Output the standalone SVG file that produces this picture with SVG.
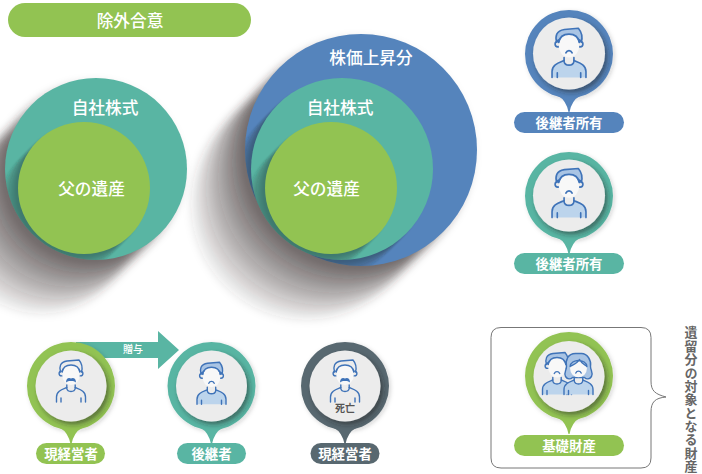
<svg xmlns="http://www.w3.org/2000/svg" width="702" height="474" viewBox="0 0 702 474">
<style>
text{font-family:"Noto Sans CJK JP","Noto Sans",sans-serif;fill:#fff;text-anchor:middle;font-weight:500}
.big{font-size:16.7px}
.lab{font-size:13.4px;font-weight:700}
.small{font-size:10px}
.green{fill:#92c352}.teal{fill:#59b5a3}.blue{fill:#5584bc}.dark{fill:#586870}
.disc{fill:#ececec;filter:url(#discShadow)}
.ring{filter:url(#ringShadow)}
.ln{fill:none;stroke:#3f73b8;stroke-width:1.4;stroke-linecap:round;stroke-linejoin:round}
.face{fill:#f8f8f8}
.lt{fill:#bcd4ec}
.ltb{fill:#a9c4e4;stroke:#3f73b8;stroke-width:1.4;stroke-linejoin:round}
.st{fill:#3a2f2f;fill-opacity:.105}
.sti{fill:#25302f;fill-opacity:.085}
</style>
<defs>
<filter id="soft" x="-40%" y="-40%" width="180%" height="180%"><feGaussianBlur stdDeviation="4"/></filter>
<filter id="softi" x="-20%" y="-20%" width="140%" height="140%"><feGaussianBlur stdDeviation="1.2"/></filter>
<filter id="discShadow" x="-30%" y="-30%" width="170%" height="170%"><feDropShadow dx="2.5" dy="3" stdDeviation="2.5" flood-color="#222" flood-opacity=".5"/></filter>
<filter id="ringShadow" x="-20%" y="-20%" width="140%" height="140%"><feDropShadow dx="1.5" dy="1.5" stdDeviation="2" flood-color="#222" flood-opacity=".18"/></filter>
<clipPath id="cT1"><circle cx="96" cy="169" r="91"/></clipPath>
<clipPath id="cB"><circle cx="361" cy="150" r="116"/></clipPath>
<clipPath id="cT2"><circle cx="342" cy="169" r="91"/></clipPath>
<path id="tail" d="M-11,42 Q-3,46 -0.5,58 L0.5,58 Q3,46 11,42 Z"/>
<circle id="s91" r="91"/>
<circle id="s116" r="116"/>
<circle id="s66" r="66"/>
<g id="head">
<circle class="ln" cx="-9.5" cy="-12.5" r="2.4"/>
<circle class="ln" cx="9.5" cy="-12.5" r="2.4"/>
<ellipse class="face" cx="0" cy="-11" rx="8.8" ry="10"/>
<path class="ln" d="M-8.8,-14 C-8,-19 -4,-21 0,-21 C4,-21 8,-19 8.8,-14"/>
</g>
<g id="man">
<path class="ln" d="M-10.5,-14 C-12,-19 -11,-24 -4,-25 L8,-26 C10.5,-23 12,-19 10.5,-14"/>
<use href="#head"/>
<path class="ln" d="M-14.5,16 V11 C-14.5,5 -9,3.5 -4.2,1.5 M14.5,16 V11 C14.5,5 9,3.5 4.2,1.5 M-10,12 V16 M10,12 V16"/>
<path class="ln" d="M-4.2,-1 V2.5 C-3.5,6.5 3.5,6.5 4.2,2.5 V-1"/>
<path fill="#3f73b8" d="M-5,-3.5 C-5,-8 -2,-8.8 0,-7.5 C2,-8.8 5,-8 5,-3.5 C3,-5.3 1,-5 0,-5 C-1,-5 -3,-5.3 -5,-3.5 Z"/>
</g>
<g id="heir">
<path class="ltb" d="M-10.5,-14 C-12,-19 -11,-24 -4,-25 L8,-26 C10.5,-23 12,-19 10.5,-14 C9,-19 -9,-19 -10.5,-14 Z"/>
<use href="#head"/>
<path class="lt" d="M-14.5,16 V11 C-14.5,5 -9,3.5 -4.2,1.5 C-3.5,6.5 3.5,6.5 4.2,1.5 C9,3.5 14.5,5 14.5,11 V16 Z"/>
<path class="ln" d="M-14.5,16 V11 C-14.5,5 -9,3.5 -4.2,1.5 M14.5,16 V11 C14.5,5 9,3.5 4.2,1.5 M-10,12 V16 M10,12 V16"/>
<path class="ln" d="M-4.2,-1 V2.5 C-3.5,6.5 3.5,6.5 4.2,2.5 V-1"/>
<path class="ln" d="M-2.7,-5 C-1.5,-7.5 1.5,-7.5 2.7,-5"/>
</g>
<g id="woman">
<path class="ltb" d="M-3,-25 C-11,-25 -13,-18 -12,-12 C-12,-8 -15,-6 -13,-2 C-11,1 -8,1 -6,-1 H6 C8,1 11,1 13,-2 C15,-6 12,-8 12,-12 C13,-18 9,-25 3,-25 Z"/>
<ellipse class="face" cx="0" cy="-10" rx="8.4" ry="8.8"/>
<path class="ltb" d="M-8.4,-12 C-5,-14 -1,-15 1,-19 C3,-15 6,-14 8.4,-12 C8,-20 -8,-20 -8.4,-12 Z"/>
<path class="lt" d="M-14.5,16 V11 C-14.5,5 -9,3.5 -4.2,1.5 C-3.5,6.5 3.5,6.5 4.2,1.5 C9,3.5 14.5,5 14.5,11 V16 Z"/>
<path class="ln" d="M-14.5,16 V11 C-14.5,5 -9,3.5 -4.2,1.5 M14.5,16 V11 C14.5,5 9,3.5 4.2,1.5 M-10,12 V16 M10,12 V16"/>
<path class="ln" d="M-4.2,-1 V2.5 C-3.5,6.5 3.5,6.5 4.2,2.5 V-1"/>
<path class="ln" d="M-2.7,-5.5 C-1.5,-8 1.5,-8 2.7,-5.5"/>
</g>
</defs>

<rect width="702" height="474" fill="#fff"/>

<g id="node-exclusion">
<rect class="green" x="8" y="3" width="243" height="34" rx="17"/>
<text class="big" x="130" y="27">除外合意</text>
</g>

<g id="node-stack-left">
<g filter="url(#soft)" class="st" transform="translate(96,169)">
<use href="#s91" x="-3" y="3"/><use href="#s91" x="-6" y="6"/><use href="#s91" x="-9" y="9"/><use href="#s91" x="-13" y="13"/><use href="#s91" x="-17" y="17"/><use href="#s91" x="-22" y="22"/><use href="#s91" x="-27" y="27"/><use href="#s91" x="-33" y="33"/><use href="#s91" x="-39" y="39"/><use href="#s91" x="-46" y="46"/><use href="#s91" x="-54" y="54"/>
</g>
<circle class="teal" cx="96" cy="169" r="91"/>
<g clip-path="url(#cT1)"><g filter="url(#softi)" class="sti" transform="translate(84,188)">
<use href="#s66" x="-3" y="3"/><use href="#s66" x="-6" y="6"/><use href="#s66" x="-9" y="9"/><use href="#s66" x="-12" y="12"/><use href="#s66" x="-16" y="16"/><use href="#s66" x="-20" y="20"/>
</g></g>
<circle class="green" cx="84" cy="188" r="66"/>
<text class="big" x="105" y="114">自社株式</text>
<text class="big" x="91.5" y="195">父の遺産</text>
</g>

<g id="node-stack-right">
<g filter="url(#soft)" class="st" transform="translate(361,150)">
<use href="#s116" x="-3" y="3"/><use href="#s116" x="-6" y="6"/><use href="#s116" x="-9" y="9"/><use href="#s116" x="-13" y="13"/><use href="#s116" x="-17" y="17"/><use href="#s116" x="-22" y="22"/><use href="#s116" x="-27" y="27"/><use href="#s116" x="-33" y="33"/><use href="#s116" x="-39" y="39"/><use href="#s116" x="-46" y="46"/><use href="#s116" x="-54" y="54"/>
</g>
<circle class="blue" cx="361" cy="150" r="116"/>
<g clip-path="url(#cB)"><g filter="url(#softi)" class="sti" transform="translate(342,169)">
<use href="#s91" x="-3" y="3"/><use href="#s91" x="-6" y="6"/><use href="#s91" x="-9" y="9"/><use href="#s91" x="-12" y="12"/><use href="#s91" x="-16" y="16"/><use href="#s91" x="-20" y="20"/>
</g></g>
<circle class="teal" cx="342" cy="169" r="91"/>
<g clip-path="url(#cT2)"><g filter="url(#softi)" class="sti" transform="translate(331,188)">
<use href="#s66" x="-3" y="3"/><use href="#s66" x="-6" y="6"/><use href="#s66" x="-9" y="9"/><use href="#s66" x="-12" y="12"/><use href="#s66" x="-16" y="16"/><use href="#s66" x="-20" y="20"/>
</g></g>
<circle class="green" cx="331" cy="188" r="66"/>
<text class="big" x="371" y="64">株価上昇分</text>
<text class="big" x="340" y="114">自社株式</text>
<text class="big" x="326.5" y="195">父の遺産</text>
</g>

<g id="connectors">
<path id="gift-arrow" class="teal" d="M76,342 H158 V331 L179,350 L158,369 V358 H76 Z"/>
<text class="small" x="133" y="353">贈与</text>
<path id="bracket" fill="none" stroke="#777" stroke-width="1" d="M501,327.5 H641 Q651,327.5 651,337.5 V381 C651,391 655,394 666,397 C655,398 651,402 651,412 V458 Q651,468 641,468 H501 Q491,468 491,458 V337.5 Q491,327.5 501,327.5 Z"/>
</g>

<g id="node-owner-blue" transform="translate(569,54)">
<circle class="blue ring" r="44"/><use href="#tail" class="blue"/>
<circle class="disc" r="36" cy="-0.5"/>
<use href="#heir" transform="translate(0,4.7) scale(1.17)"/>
<rect class="blue" x="-55" y="58" width="110" height="21" rx="10.5"/>
<text class="lab" x="0" y="73.5">後継者所有</text>
</g>

<g id="node-owner-teal" transform="translate(569,196)">
<circle class="teal ring" r="44"/><use href="#tail" class="teal"/>
<circle class="disc" r="36" cy="-0.5"/>
<use href="#heir" transform="translate(0,2.9) scale(1.17)"/>
<rect class="teal" x="-55" y="57" width="110" height="21" rx="10.5"/>
<text class="lab" x="0" y="72.5">後継者所有</text>
</g>

<g id="node-manager" transform="translate(71,386)">
<circle class="green ring" r="44"/><use href="#tail" class="green"/>
<circle class="disc" r="35.5"/>
<use href="#man"/>
<rect class="green" x="-35" y="57" width="69" height="21" rx="10.5"/>
<text class="lab" x="0" y="72.5">現経営者</text>
</g>

<g id="node-successor" transform="translate(211.5,386)">
<circle class="teal ring" r="44"/><use href="#tail" class="teal"/>
<circle class="disc" r="35.5"/>
<use href="#heir" y="2.3"/>
<rect class="teal" x="-34.5" y="57" width="69" height="21" rx="10.5"/>
<text class="lab" x="0" y="72.5">後継者</text>
</g>

<g id="node-deceased" transform="translate(345,386)">
<circle class="dark ring" r="44"/><use href="#tail" class="dark"/>
<circle class="disc" r="35.5"/>
<use href="#man"/>
<text class="small" x="0" y="26" style="fill:#555;font-weight:700">死亡</text>
<rect class="dark" x="-34.5" y="57" width="69" height="21" rx="10.5"/>
<text class="lab" x="0" y="72.5">現経営者</text>
</g>

<g id="node-basic" transform="translate(569,376)">
<circle class="green ring" r="44"/><use href="#tail" class="green"/>
<circle class="disc" r="35.5" cy="0.5"/>
<use href="#heir" x="-12" y="2.5"/>
<use href="#woman" x="9.5" y="2.5"/>
<rect class="green" x="-55" y="59" width="110" height="21" rx="10.5"/>
<text class="lab" x="0" y="74.5">基礎財産</text>
</g>

<g id="caption">
<text x="691" y="326" style="writing-mode:vertical-rl;fill:#666;font-size:13px;font-weight:700;letter-spacing:.36px;text-anchor:start">遺留分の対象となる財産</text>
</g>
</svg>
